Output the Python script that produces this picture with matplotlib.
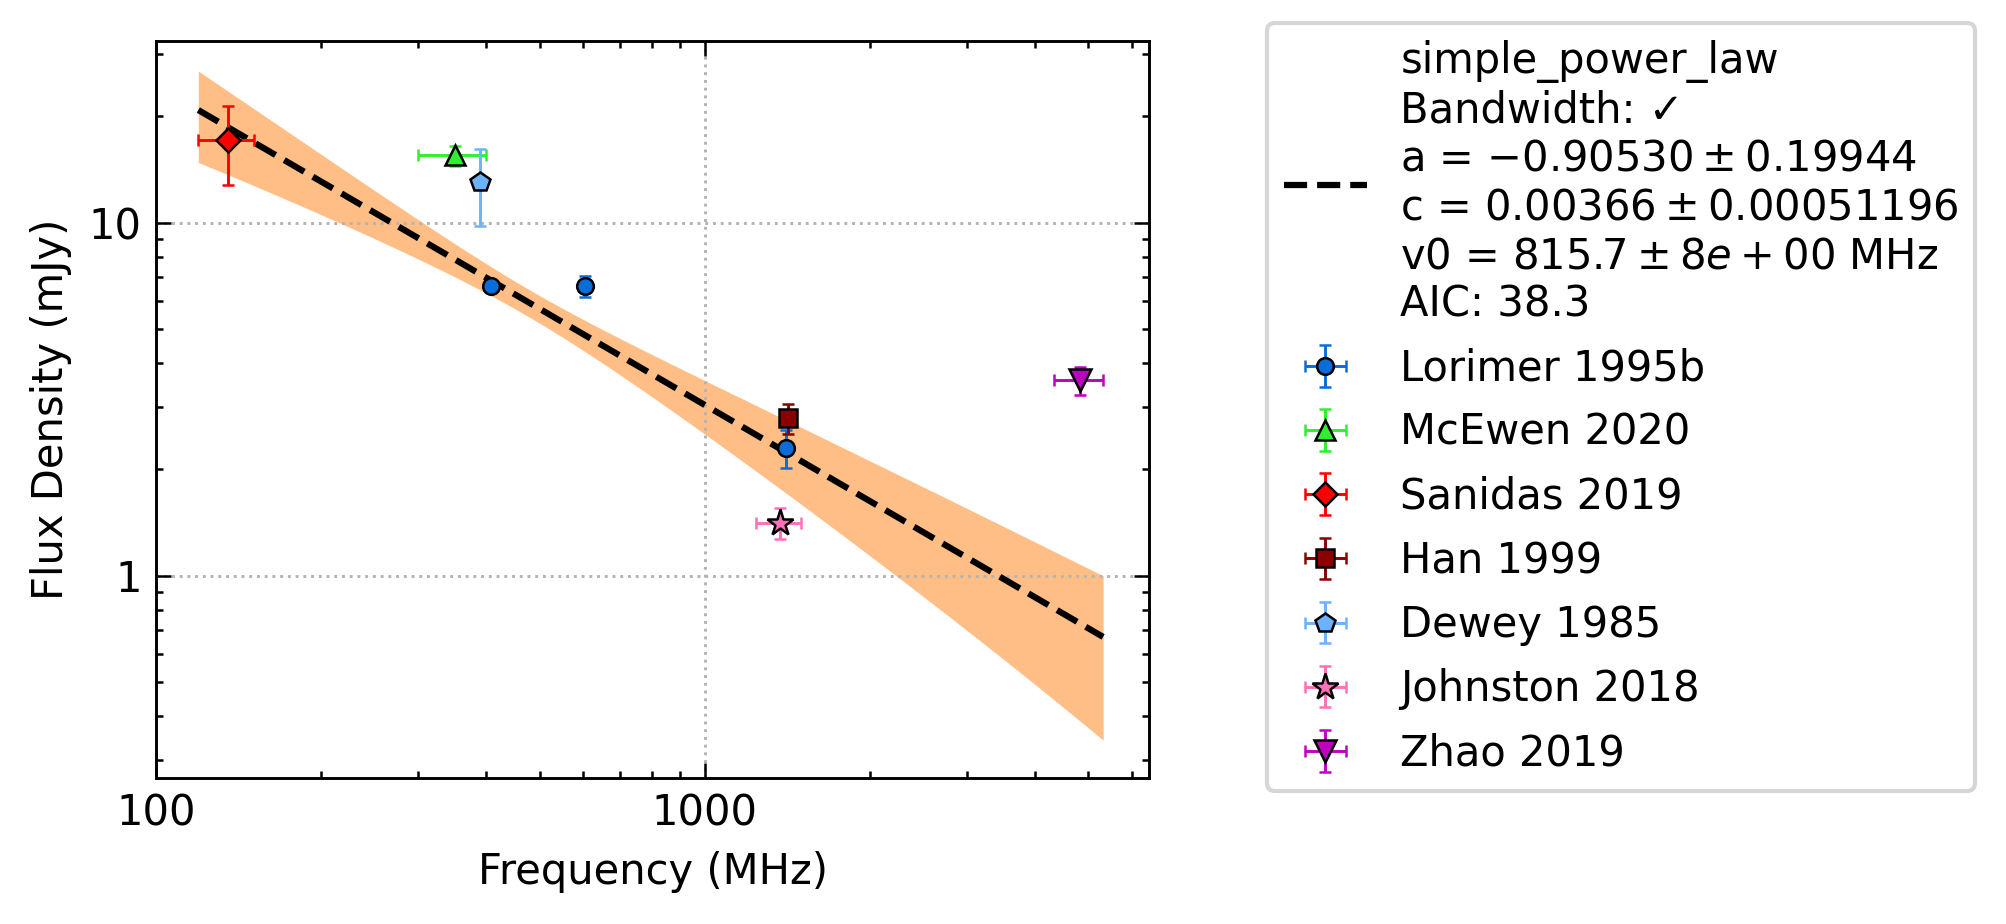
import numpy as np
import matplotlib
matplotlib.use("Agg")
import matplotlib.pyplot as plt
from matplotlib.ticker import FuncFormatter, LogLocator, NullFormatter

# ---- fit parameters (from the legend) ----
FIT_A = -0.90530
FIT_A_ERR = 0.19944
FIT_C = 0.00366          # Jy at v0
FIT_C_ERR = 0.00051196
FIT_V0 = 815.7           # MHz
FIT_RHO = 0.77           # a/c correlation (estimated)
FIT_FMIN = 119.4
FIT_FMAX = 5320.0

# ---- measurements ----
labels = ["Lorimer 1995b", "McEwen 2020", "Sanidas 2019", "Han 1999",
          "Dewey 1985", "Johnston 2018", "Zhao 2019"]
freqs = [[408, 606, 1408], [350], [135], [1420], [390], [1369], [4820]]
freq_errs = [[4, 6, 14], [50], [15.6], [14], [4], [128], [500]]
fluxes = [[6.6, 6.6, 2.3], [15.5], [17.1], [2.79], [13.0], [1.41], [3.58]]
flux_errs = [[0.2, 0.45, 0.28], [1.0], [4.3], [0.27], [3.2], [0.14], [0.33]]

markers = ["o", "^", "D", "s", "p", "*", "v"]
colors = ["#0A6CD8", "#2EF02E", "#FF0000", "#8B0000", "#6CB2FF", "#FF70B8", "#C000C0"]
sizes = [4, 5, 4, 4.2, 4.8, 6.5, 5.2]

plt.rcParams.update({
    "font.size": 10,
    "xtick.direction": "in",
    "ytick.direction": "in",
    "xtick.top": True,
    "ytick.right": True,
    "xtick.minor.visible": True,
    "ytick.minor.visible": True,
    "xtick.major.size": 3.5,
    "ytick.major.size": 3.5,
    "xtick.minor.size": 1.75,
    "ytick.minor.size": 1.75,
    "xtick.major.width": 0.6,
    "ytick.major.width": 0.6,
    "xtick.minor.width": 0.6,
    "ytick.minor.width": 0.6,
    "axes.linewidth": 0.7,
})

fig = plt.figure(figsize=(2006 / 300, 924 / 300), dpi=300)
ax = fig.add_axes([0.0778, 0.158, 0.495, 0.7976])

# fitted model + 1 sigma band
f = np.geomspace(FIT_FMIN, FIT_FMAX, 200)
L = np.log(f / FIT_V0)
model = FIT_C * np.exp(FIT_A * L) * 1000  # mJy
rel_c = FIT_C_ERR / FIT_C
rel = np.sqrt(rel_c ** 2 + (L * FIT_A_ERR) ** 2 + 2 * L * FIT_RHO * FIT_A_ERR * rel_c)
ax.fill_between(f, model * (1 - rel), model * (1 + rel), color="C1", alpha=0.5, lw=0)

fit_label = ("simple_power_law\nBandwidth: \u2713\n"
             "a = $-0.90530 \\pm 0.19944$\n"
             "c = $0.00366 \\pm 0.00051196$\n"
             "v0 = $815.7 \\pm 8e+00$ MHz\n"
             "AIC: 38.3")
fit_line, = ax.plot(f, model, "k--", lw=1.5, label=fit_label)

handles = [fit_line]
for i in range(len(labels)):
    h = ax.errorbar(freqs[i], fluxes[i], xerr=freq_errs[i], yerr=flux_errs[i],
                    fmt=markers[i], color=colors[i], ecolor=colors[i],
                    markeredgecolor="k", markeredgewidth=0.6, ms=sizes[i],
                    elinewidth=0.7, capsize=1.5, capthick=0.7,
                    label=labels[i], zorder=3)
    handles.append(h)

ax.set_xscale("log")
ax.set_yscale("log")
ax.set_xlim(100, 6450)
ax.set_ylim(0.267, 32.7)

plain = FuncFormatter(lambda v, p: f"{v:g}")
ax.xaxis.set_major_formatter(plain)
ax.yaxis.set_major_formatter(plain)
ax.xaxis.set_minor_formatter(NullFormatter())
ax.yaxis.set_minor_formatter(NullFormatter())
ax.xaxis.set_minor_locator(LogLocator(base=10, subs=np.arange(2, 10)))
ax.yaxis.set_minor_locator(LogLocator(base=10, subs=np.arange(2, 10)))

ax.grid(True, which="major", ls=":", color="0.7", lw=0.7)
ax.set_xlabel("Frequency (MHz)")
ax.set_ylabel("Flux Density (mJy)")

ax.legend(handles=handles, loc="upper left", borderaxespad=0, labelspacing=0.53,
          bbox_to_anchor=(1267 / 2006, 1 - 23 / 924),
          bbox_transform=fig.transFigure)

fig.savefig("out.png", dpi=300)
